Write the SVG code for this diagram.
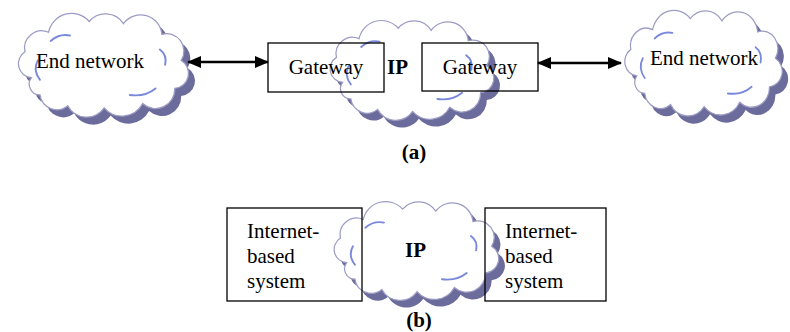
<svg xmlns="http://www.w3.org/2000/svg" xmlns:xlink="http://www.w3.org/1999/xlink" width="790" height="332" viewBox="0 0 790 332">
<style>
.t{font-family:"Liberation Serif","Times New Roman",serif;font-size:21px;fill:#000}
.b{font-weight:bold}
.box{fill:none;stroke:#000;stroke-width:1.3}
.ln{stroke:#000;stroke-width:2.5;fill:none}
.sh{fill:#6c6c9c}
.cl{fill:#fff;stroke:#9c9cc4;stroke-width:1.2}
.hl{fill:none;stroke:#6273d6;stroke-width:1.8;stroke-linecap:round;opacity:0.85}
</style>
<defs>
<path id="cp" d="M 20,58 A 13,13 0 0 1 14,34 A 16,16 0 0 1 36,16 A 22,22 0 0 1 74,6 A 20,20 0 0 1 106,8 A 20,20 0 0 1 142,18 A 16,16 0 0 1 160,42 A 14,14 0 0 1 154,68 A 18,18 0 0 1 124,82 A 22,22 0 0 1 88,86 A 20,20 0 0 1 54,84 A 16,16 0 0 1 28,74 A 10,10 0 0 1 20,58 Z"/>
<g id="cloud">
<use xlink:href="#cp" class="sh" transform="translate(6,7)"/>
<use xlink:href="#cp" class="cl"/>
<path class="hl" d="M 38,24 Q 46,17 56,19"/>
<path class="hl" d="M 26,42 Q 21,51 28,60"/>
<path class="hl" d="M 140,32 Q 147,37 145,46"/>
<path class="hl" d="M 112,74 Q 126,76 136,68"/>
</g>
<marker id="ah" viewBox="0 0 14 12" refX="13" refY="6" markerWidth="14" markerHeight="12" orient="auto-start-reverse" markerUnits="userSpaceOnUse">
<path d="M0,0 L14,6 L0,12 Z" fill="#000"/>
</marker>
</defs>
<g id="cloud-left"><use xlink:href="#cloud" transform="translate(10,15) scale(1.07,1.08)"/><text class="t" x="36" y="68">End network</text></g>
<g id="cloud-ip-a"><use xlink:href="#cloud" transform="translate(322,22) scale(1.03,1.04)"/><text class="t b" x="387" y="74">IP</text></g>
<g id="cloud-right"><use xlink:href="#cloud" transform="translate(617,12) scale(0.99,1.1)"/><text class="t" x="650" y="65">End network</text></g>
<g id="gateway-left"><rect class="box" x="268" y="43" width="116" height="49"/><text class="t" x="326" y="74" text-anchor="middle">Gateway</text></g>
<g id="gateway-right"><rect class="box" x="422" y="43" width="116" height="48"/><text class="t" x="480" y="74" text-anchor="middle">Gateway</text></g>
<g id="connectors">
<line class="ln" x1="188" y1="62" x2="268" y2="62" marker-start="url(#ah)" marker-end="url(#ah)"/>
<line class="ln" x1="538" y1="63" x2="621" y2="63" marker-start="url(#ah)" marker-end="url(#ah)"/>
</g>
<g id="label-a"><text class="t b" x="414" y="159" text-anchor="middle">(a)</text></g>
<g id="cloud-ip-b"><use xlink:href="#cloud" transform="translate(326,203) scale(1.035,1.03)"/><text class="t b" x="405" y="257">IP</text></g>
<g id="system-left"><rect class="box" x="227" y="208" width="135" height="93"/><text class="t" x="247" y="238">Internet-</text><text class="t" x="247" y="263">based</text><text class="t" x="247" y="288">system</text></g>
<g id="system-right"><rect class="box" x="485" y="208" width="121" height="93"/><text class="t" x="505" y="238">Internet-</text><text class="t" x="505" y="263">based</text><text class="t" x="505" y="288">system</text></g>
<g id="label-b"><text class="t b" x="419" y="327" text-anchor="middle">(b)</text></g>
</svg>
